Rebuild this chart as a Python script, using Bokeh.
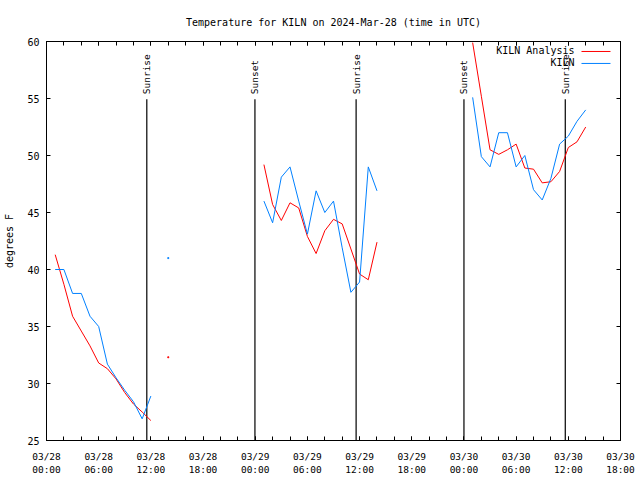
import numpy as np
import pandas as pd
from bokeh.plotting import figure
from bokeh.models import (DatetimeAxis, LinearAxis, FixedTicker, DatetimeTickFormatter,
                          CustomJSTickFormatter, Range1d, Label)
from bokeh.embed import file_html
from bokeh.resources import INLINE
from bokeh.core.properties import value

# ---------------- data ----------------
days = ["2024-03-28", "2024-03-29", "2024-03-30"]
obs_hours = list(range(1, 15))  # hourly observations 01:00 .. 14:00 UTC

analysis_0328 = [41.3, 38.7, 35.9, 34.6, 33.3, 31.8, 31.3, 30.4, 29.2, 28.2, 27.5, 26.75, np.nan, 32.3]
analysis_0329 = [49.2, 45.7, 44.3, 45.85, 45.4, 42.9, 41.4, 43.4, 44.4, 44.0, 41.8, 39.6, 39.1, 42.4]
analysis_0330 = [59.9, 55.2, 50.5, 50.1, 50.5, 51.0, 48.9, 48.8, 47.6, 47.7, 48.6, 50.7, 51.2, 52.5]

kiln_0328 = [40.0, 40.0, 37.9, 37.9, 35.9, 35.0, 31.7, 30.5, 29.4, 28.4, 26.9, 28.9, np.nan, 41.0]
kiln_0329 = [46.0, 44.1, 48.1, 49.0, 46.0, 43.1, 46.9, 45.0, 46.0, 41.9, 38.0, 38.9, 49.0, 46.9]
kiln_0330 = [55.1, 49.9, 49.0, 52.0, 52.0, 49.0, 50.0, 47.0, 46.1, 48.0, 51.0, 51.7, 53.0, 54.0]

sun_times = ["2024-03-28 11:32", "2024-03-28 23:58", "2024-03-29 11:36",
             "2024-03-30 00:00", "2024-03-30 11:39"]
sun_labels = ["Sunrise", "Sunset", "Sunrise", "Sunset", "Sunrise"]

y_ticks = [25, 30, 35, 40, 45, 50, 55, 60]
x_start, x_end = "2024-03-28 00:00", "2024-03-30 18:00"
title = "Temperature for KILN on 2024-Mar-28 (time in UTC)"
y_label = "degrees F"
series_names = ["KILN Analysis", "KILN"]
RED, BLUE = "#ff0000", "#0080ff"
FONT = "DejaVu Sans Mono"

# ---------------- build ----------------
def series(parts):
    xs, ys = [], []
    for d, vals in zip(days, parts):
        for h, v in zip(obs_hours, vals):
            xs.append(pd.Timestamp(d) + pd.Timedelta(hours=h))
            ys.append(v)
        # break the line between days
        xs.append(pd.Timestamp(d) + pd.Timedelta(hours=obs_hours[-1] + 1))
        ys.append(np.nan)
    return xs, np.array(ys, dtype=float)

ax, ay = series([analysis_0328, analysis_0329, analysis_0330])
kx, ky = series([kiln_0328, kiln_0329, kiln_0330])

def isolated(xs, ys):
    px, py = [], []
    for i, v in enumerate(ys):
        if np.isnan(v):
            continue
        prev_nan = i == 0 or np.isnan(ys[i - 1])
        next_nan = i == len(ys) - 1 or np.isnan(ys[i + 1])
        if prev_nan and next_nan:
            px.append(xs[i]); py.append(v)
    return px, py

xs0, xs1 = pd.Timestamp(x_start), pd.Timestamp(x_end)
W, H = 640, 480
BL, BR, BT, BB = 46, 20, 40, 40
FW, FH = W - BL - BR, H - BT - BB

p = figure(width=W, height=H, x_axis_type="datetime",
           x_range=Range1d(xs0, xs1), y_range=Range1d(y_ticks[0], y_ticks[-1]),
           output_backend="svg", toolbar_location=None,
           min_border_left=BL, min_border_right=BR, min_border_top=BT, min_border_bottom=BB)
p.background_fill_color = "white"
p.border_fill_color = "white"
p.outline_line_color = "black"
p.outline_line_width = 1
p.xgrid.visible = False
p.ygrid.visible = False

p.title.text = title
p.title.align = "center"
p.title.text_font = FONT
p.title.text_font_size = "10px"
p.title.text_font_style = "normal"
p.title.text_color = "black"
p.title.standoff = 28

def ms(t):
    return pd.Timestamp(t).value // 10**6

major = [ms(xs0 + pd.Timedelta(hours=h)) for h in range(0, 67, 6)]
minor = [ms(xs0 + pd.Timedelta(hours=h)) for h in range(0, 67, 2)]
xticker = FixedTicker(ticks=major, minor_ticks=minor)
fmt = "%m/%d\n%H:%M"
xfmt = DatetimeTickFormatter(microseconds=fmt, milliseconds=fmt, seconds=fmt, minsec=fmt,
                             minutes=fmt, hourmin=fmt, hours=fmt, days=fmt, months=fmt, years=fmt)
blank = CustomJSTickFormatter(code="return ''")

def style_axis(a):
    a.major_tick_in = 4
    a.major_tick_out = 0
    a.minor_tick_in = 4
    a.minor_tick_out = 0
    a.axis_line_color = "black"
    a.major_tick_line_color = "black"
    a.minor_tick_line_color = "black"
    a.major_label_text_font = FONT
    a.major_label_text_font_size = "9.5px"
    a.major_label_text_color = "black"

xa = p.xaxis[0]
xa.ticker = xticker
xa.formatter = xfmt
style_axis(xa)
xa.major_label_standoff = 10

ya = p.yaxis[0]
ya.ticker = FixedTicker(ticks=y_ticks)
style_axis(ya)
ya.major_label_text_font_size = "10px"
ya.major_label_standoff = 7
ya.axis_label = y_label
ya.axis_label_text_font = FONT
ya.axis_label_text_font_size = "10px"
ya.axis_label_text_font_style = "normal"
ya.axis_label_text_color = "black"
ya.axis_label_standoff = 9

top = DatetimeAxis(ticker=xticker, formatter=blank)
style_axis(top)
top.major_label_standoff = 0
p.add_layout(top, "above")

right = LinearAxis(ticker=FixedTicker(ticks=y_ticks), formatter=blank)
style_axis(right)
right.major_label_standoff = 0
p.add_layout(right, "right")

# sunrise / sunset markers
st = [pd.Timestamp(t) for t in sun_times]
line_top = y_ticks[0] + (y_ticks[-1] - y_ticks[0]) * 0.855
p.segment(x0=st, y0=[y_ticks[0]] * len(st), x1=st, y1=[line_top] * len(st),
          line_color="black", line_width=1.2)
p.text(x=st, y=[line_top + 0.45] * len(st), text=sun_labels, angle=np.pi / 2,
       text_align="left", text_baseline="middle", text_font=value(FONT),
       text_font_size="9.5px", text_color="black")

# series
p.line(ax, ay, line_color=RED, line_width=1)
p.line(kx, ky, line_color=BLUE, line_width=1)
ix, iy = isolated(ax, ay)
p.scatter(ix, iy, marker="square", size=1, color=RED)
ix, iy = isolated(kx, ky)
p.scatter(ix, iy, marker="square", size=1, color=BLUE)

# legend (gnuplot style: text right-aligned, sample on the right)
span = (xs1 - xs0)
def fx(frac):
    return xs0 + span * frac
yr = y_ticks[-1] - y_ticks[0]
for i, (name, col) in enumerate(zip(series_names, [RED, BLUE])):
    ypos = FH - 10 - 12 * i
    p.add_layout(Label(x=528, y=ypos, x_units="screen", y_units="screen", text=name,
                       text_align="right", text_baseline="middle", text_font=FONT,
                       text_font_size="10px", text_color="black"))
    yv = y_ticks[0] + yr * ypos / FH
    p.line([fx(535 / FW), fx(564 / FW)], [yv, yv], line_color=col, line_width=1)

open("out.html", "w").write(file_html(p, INLINE))
